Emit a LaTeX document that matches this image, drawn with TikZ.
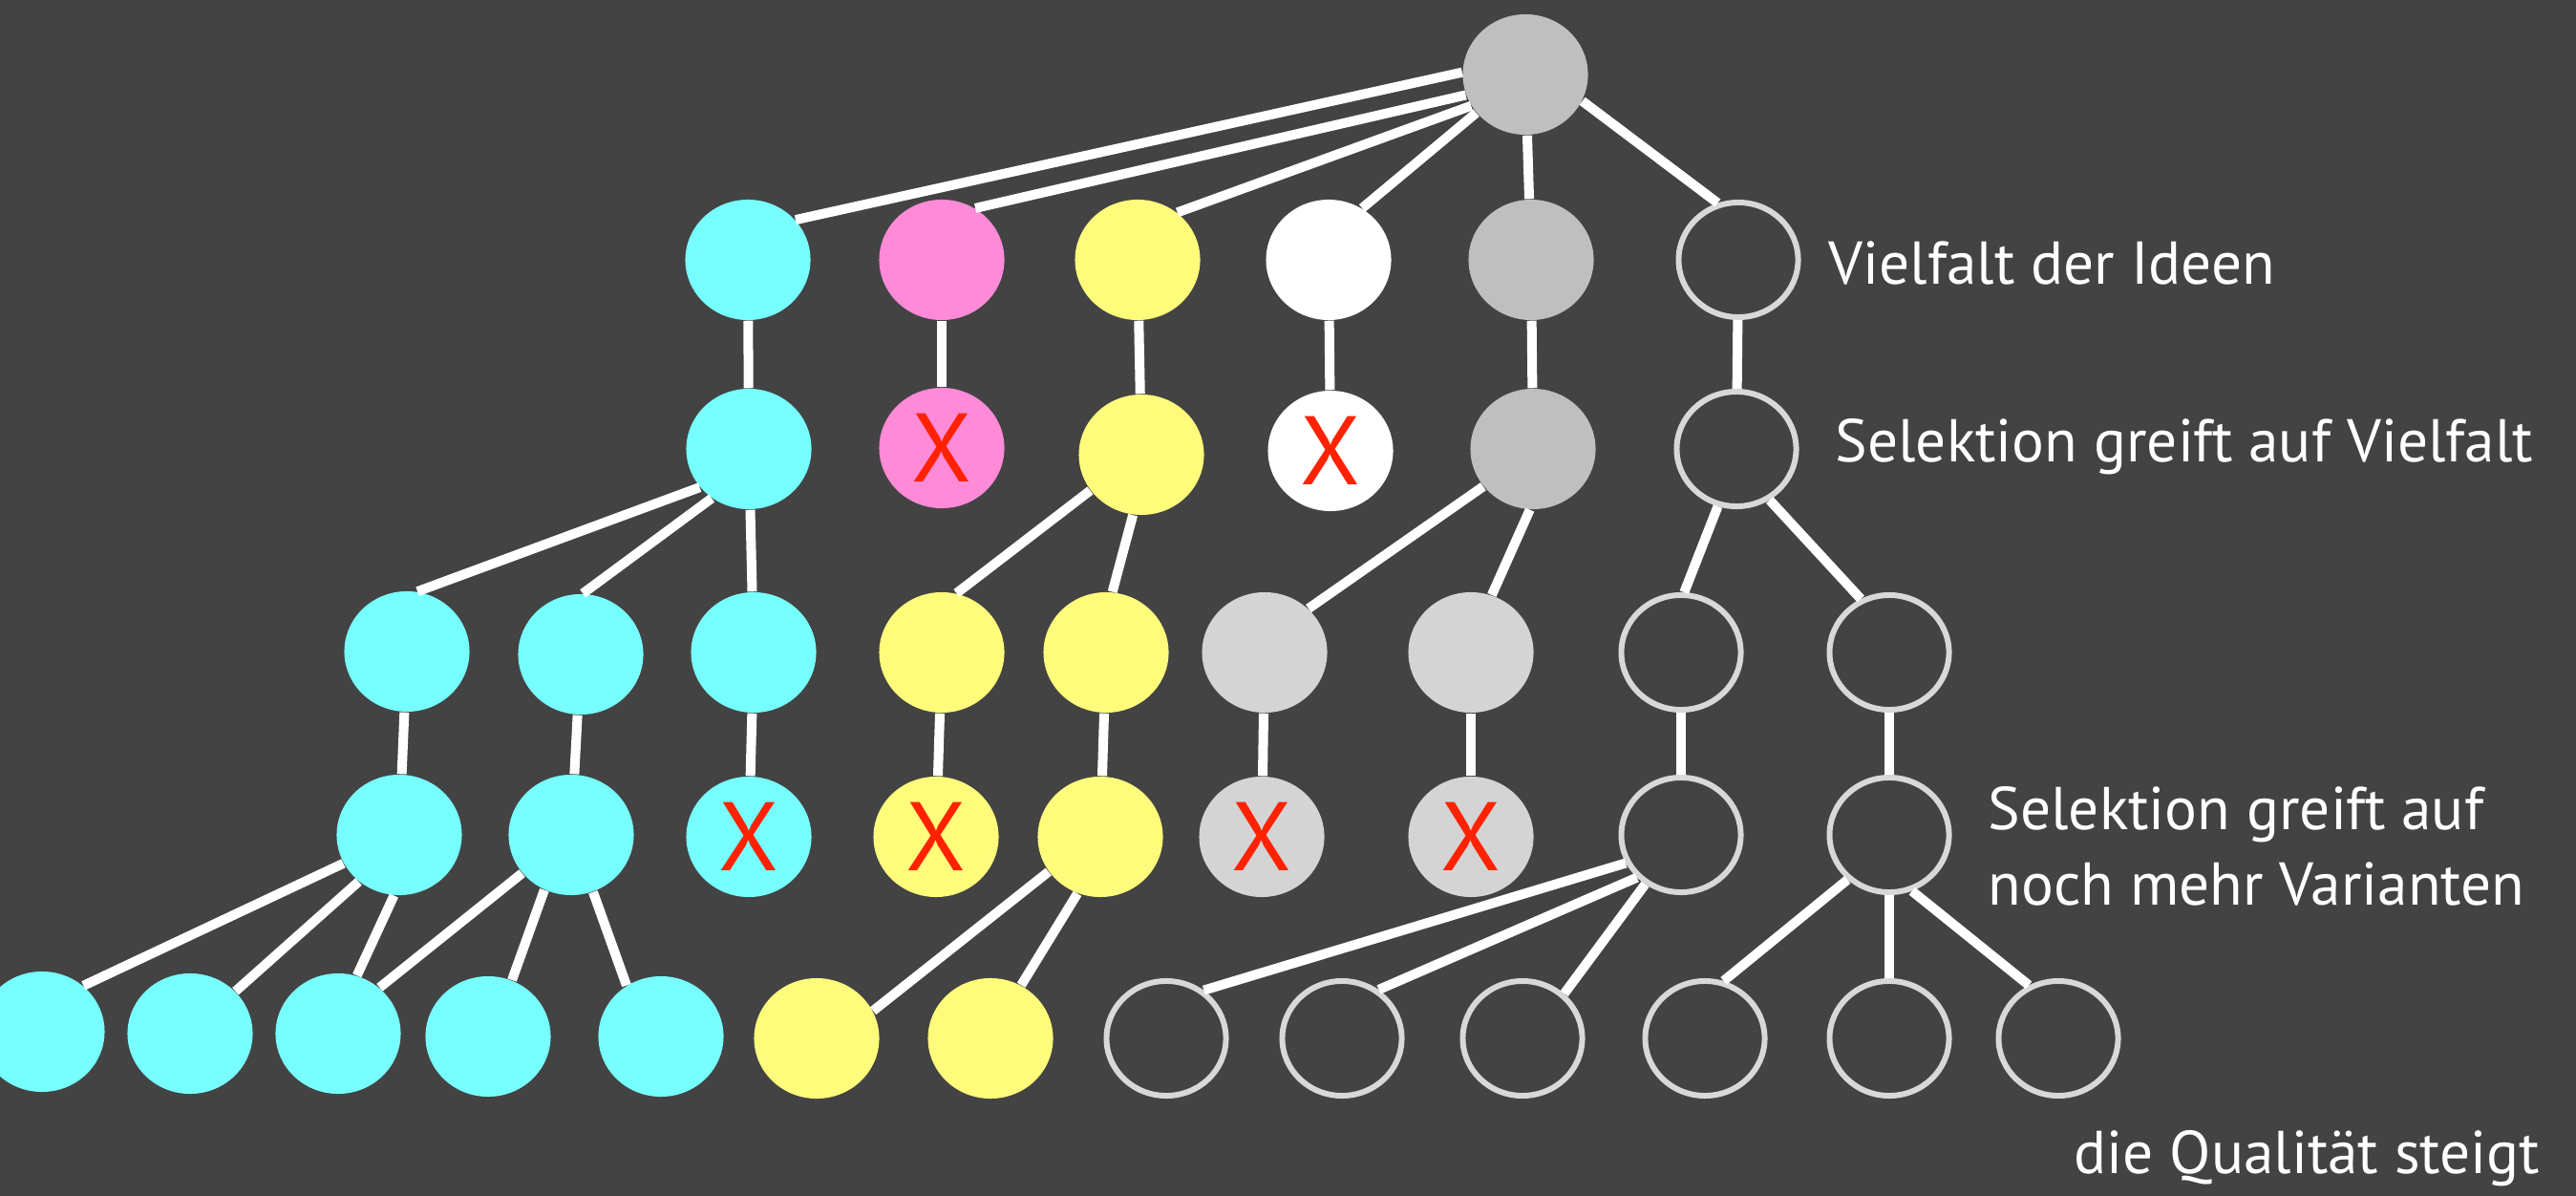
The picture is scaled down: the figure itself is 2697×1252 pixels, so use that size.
\documentclass[tikz,border=0pt]{standalone}
\usepackage{fontspec}
\setmainfont{PT Sans}
\usepackage{tikz}
\usetikzlibrary{shapes.geometric}
\usepackage{xcolor}
\definecolor{board}{HTML}{434343}
\definecolor{ideacyan}{HTML}{77FFFF}
\definecolor{ideapink}{HTML}{FF8AD8}
\definecolor{ideayellow}{HTML}{FFFB7B}
\definecolor{ideagray}{HTML}{BFBFBF}
\definecolor{idealight}{HTML}{D4D4D4}
\definecolor{ring}{HTML}{D8D8D8}
\definecolor{cross}{HTML}{FF2200}
\tikzset{
  idea/.style={ellipse,minimum width=1.31cm,minimum height=1.26cm,inner sep=0pt},
  cnode/.style={idea,fill=ideacyan},
  pnode/.style={idea,fill=ideapink},
  ynode/.style={idea,fill=ideayellow},
  wnode/.style={idea,fill=white},
  gnode/.style={idea,fill=ideagray},
  lnode/.style={idea,fill=idealight},
  onode/.style={idea,draw=ring,line width=1.7pt,fill=board,
    minimum width=1.25cm,minimum height=1.2cm},
  drop/.style={text=cross,font=\fontsize{29}{29}\selectfont},
  link/.style={draw=white,line width=2.85pt},
  caption/.style={anchor=west,text=white,align=left,inner sep=0pt,
    font=\fontsize{18}{22.5}\selectfont}
}

\begin{document}
\begin{tikzpicture}[x=0.01cm,y=-0.01cm]
  \fill[board] (0,0) rectangle (2697,1252);
  \useasboundingbox (0,0) rectangle (2697,1252);

  % root
  \node[gnode] (r) at (1597,78) {};

  % Vielfalt der Ideen
  \node[cnode] (a1) at (783,272) {};
  \node[pnode] (a2) at (986,272) {};
  \node[ynode] (a3) at (1191,272) {};
  \node[wnode] (a4) at (1391,272) {};
  \node[gnode] (a5) at (1603,272) {};
  \node[onode] (a6) at (1820,272) {};

  % erste Selektion
  \node[cnode] (b1) at (784,470) {};
  \node[pnode,drop] (b2) at (986,469) {X};
  \node[ynode] (b3) at (1195,476) {};
  \node[wnode,drop] (b4) at (1393,472) {X};
  \node[gnode] (b5) at (1605,470) {};
  \node[onode] (b6) at (1818,470) {};

  % Varianten
  \node[cnode] (c1) at (426,682) {};
  \node[cnode] (c2) at (608,685) {};
  \node[cnode] (c3) at (789,683) {};
  \node[ynode] (c4) at (986,683) {};
  \node[ynode] (c5) at (1158,683) {};
  \node[lnode] (c6) at (1324,683) {};
  \node[lnode] (c7) at (1540,683) {};
  \node[onode] (c8) at (1760,683) {};
  \node[onode] (c9) at (1978,683) {};

  % zweite Selektion
  \node[cnode] (d1) at (418,874) {};
  \node[cnode] (d2) at (598,874) {};
  \node[cnode,drop] (d3) at (784,876) {X};
  \node[ynode,drop] (d4) at (980,876) {X};
  \node[ynode] (d5) at (1152,876) {};
  \node[lnode,drop] (d6) at (1321,876) {X};
  \node[lnode,drop] (d7) at (1540,876) {X};
  \node[onode] (d8) at (1760,874) {};
  \node[onode] (d9) at (1978,874) {};

  % Qualitaet
  \node[cnode] (e1) at (44,1080) {};
  \node[cnode] (e2) at (199,1082) {};
  \node[cnode] (e3) at (354,1082) {};
  \node[cnode] (e4) at (511,1085) {};
  \node[cnode] (e5) at (692,1085) {};
  \node[ynode] (e6) at (855,1087) {};
  \node[ynode] (e7) at (1037,1087) {};
  \node[onode] (e8) at (1221,1087) {};
  \node[onode] (e9) at (1405,1087) {};
  \node[onode] (e10) at (1594,1087) {};
  \node[onode] (e11) at (1785,1087) {};
  \node[onode] (e12) at (1978,1087) {};
  \node[onode] (e13) at (2155,1087) {};

  % Verbindungen
  \draw[link] (r.178)--(a1.40); \draw[link] (r.199)--(a2.57);
  \draw[link] (r.210)--(a3.50); \draw[link] (r.218)--(a4.57);
  \draw[link] (r)--(a5); \draw[link] (r.335)--(a6.110);
  \draw[link] (a1)--(b1); \draw[link] (a2)--(b2); \draw[link] (a3)--(b3);
  \draw[link] (a4)--(b4); \draw[link] (a5)--(b5); \draw[link] (a6)--(b6);
  \draw[link] (b1.218)--(c1.80); \draw[link] (b1.233)--(c2.88);
  \draw[link] (b1)--(c3);
  \draw[link] (b3.215)--(c4.76); \draw[link] (b3.262)--(c5.84);
  \draw[link] (b5.217)--(c6.45); \draw[link] (b5.267)--(c7.70);
  \draw[link] (b6.252)--(c8.87); \draw[link] (b6.303)--(c9.118);
  \draw[link] (c1)--(d1); \draw[link] (c2)--(d2); \draw[link] (c3)--(d3);
  \draw[link] (c4)--(d4); \draw[link] (c5)--(d5); \draw[link] (c6)--(d6);
  \draw[link] (c7)--(d7); \draw[link] (c8)--(d8); \draw[link] (c9)--(d9);
  \draw[link] (d1.207)--(e1.48); \draw[link] (d1.229)--(e2.43);
  \draw[link] (d1.265)--(e3.72);
  \draw[link] (d2.218)--(e3.48); \draw[link] (d2.244)--(e4.67);
  \draw[link] (d2.291)--(e5.124);
  \draw[link] (d5.214)--(e6.26); \draw[link] (d5.248)--(e7.60);
  \draw[link] (d8.207)--(e8.52); \draw[link] (d8.224)--(e9.53);
  \draw[link] (d8.234)--(e10.47);
  \draw[link] (d9.227)--(e11.72); \draw[link] (d9)--(e12);
  \draw[link] (d9.292)--(e13.119);

  % Beschriftung
  \node[caption] (t1) at (1914,275) {Vielfalt der Ideen};
  \node[caption] (t2) at (1921,468) {Selektion greift auf Vielfalt};
  \node[caption] (t3) at (2081,886) {Selektion greift auf\\noch mehr Varianten};
  \node[caption] (t4) at (2171,1213) {die Qualität steigt};
\end{tikzpicture}
\end{document}
